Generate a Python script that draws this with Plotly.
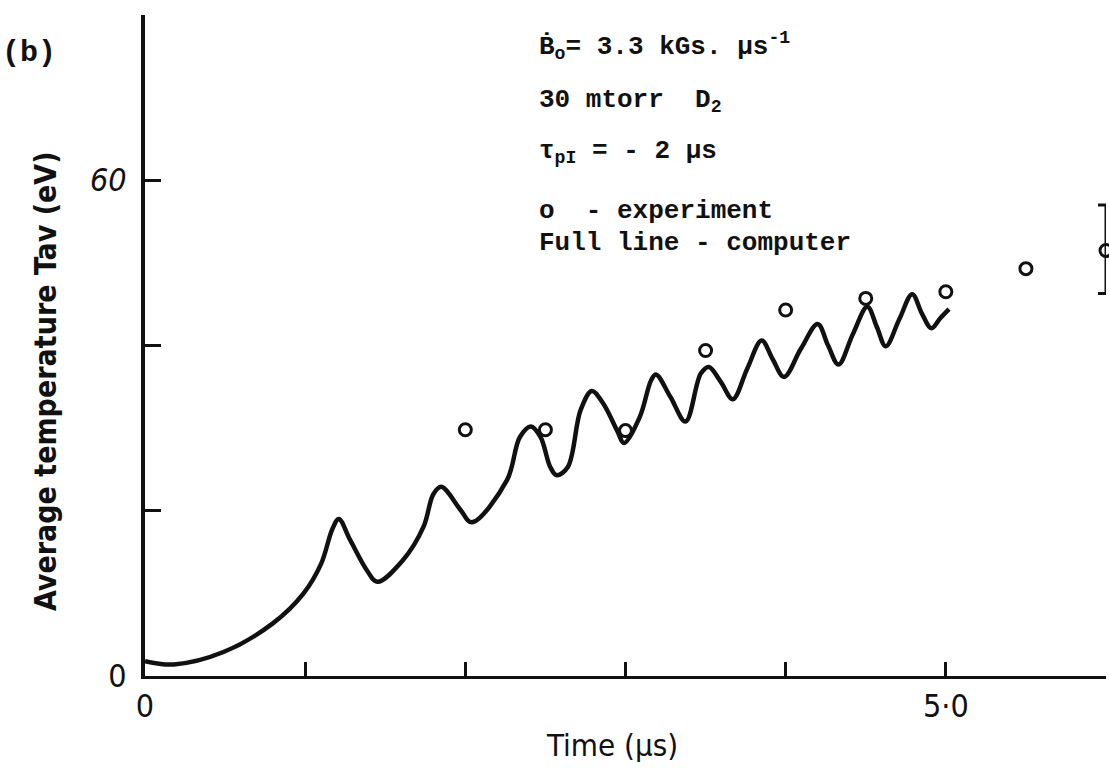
import plotly.graph_objects as go

# Computed average temperature (full line), time in microseconds, T in eV
sim_time = [0.00, 0.18, 0.49, 0.80, 0.99, 1.10, 1.17, 1.21, 1.28, 1.385, 1.45,
            1.61, 1.74, 1.80, 1.85, 1.97, 2.04, 2.26, 2.34, 2.41, 2.47, 2.53,
            2.57, 2.64, 2.72, 2.79, 2.86, 2.95, 2.99, 3.09, 3.16, 3.19, 3.28,
            3.375, 3.47, 3.52, 3.595, 3.67, 3.76, 3.85, 3.92, 3.99, 4.095,
            4.20, 4.265, 4.33, 4.42, 4.51, 4.57, 4.625, 4.71, 4.79, 4.85,
            4.91, 4.965, 5.02]
sim_temp = [1.8, 1.4, 2.9, 6.4, 10.0, 13.6, 17.8, 19.0, 16.5, 12.8, 11.4,
            14.0, 18.1, 22.0, 22.9, 20.1, 18.6, 23.7, 28.9, 30.2, 28.9, 25.3,
            24.3, 25.3, 32.2, 34.5, 33.0, 29.6, 28.2, 31.4, 35.8, 36.5, 33.8,
            30.8, 36.6, 37.4, 35.6, 33.5, 37.2, 40.6, 38.3, 36.2, 39.6,
            42.6, 40.0, 37.7, 41.4, 44.7, 42.2, 39.9, 43.2, 46.2, 43.9,
            42.1, 43.3, 44.4]

# Measured points (open circles)
exp_time = [2.0, 2.5, 3.0, 3.5, 4.0, 4.5, 5.0, 5.5]
exp_temp = [29.8, 29.8, 29.7, 39.4, 44.3, 45.7, 46.5, 49.3]

# Last measurement, drawn with its spread
bar_time = [6.0]
bar_temp = [51.5]
bar_up = [5.5]
bar_down = [5.2]

# Labelled ticks and the unlabelled marks between them
x_ticks = [0, 5]
x_tick_text = ["0", "5·0"]
x_minor_ticks = [1, 2, 3, 4, 6]
y_ticks = [0, 60]
y_tick_text = ["0", "<i>60</i>"]
y_minor_ticks = [20, 40, 80]

notes = [
    ("Ḃ<sub>o</sub>= 3.3 kGs. μs<sup>-1</sup>", 46),
    ("30 mtorr  D<sub>2</sub>", 101),
    ("τ<sub>pI</sub> = - 2 μs", 152),
    ("o  - experiment", 211),
    ("Full line - computer", 243),
]

W, H = 1109, 768
L, R, T, B = 145, 3, 15, 92
ink = "#111111"


def px(x):
    return (x - L) / (W - L - R)


def py(y):
    return (H - B - y) / (H - T - B)


fig = go.Figure()

fig.add_trace(go.Scatter(
    x=sim_time, y=sim_temp, mode="lines",
    line=dict(color=ink, width=4.5, shape="spline", smoothing=1.0),
    hoverinfo="skip", showlegend=False,
))

fig.add_trace(go.Scatter(
    x=exp_time, y=exp_temp, mode="markers",
    marker=dict(symbol="circle-open", size=12, color=ink, line=dict(width=3, color=ink)),
    cliponaxis=False, showlegend=False,
))

fig.add_trace(go.Scatter(
    x=bar_time, y=bar_temp, mode="markers",
    marker=dict(symbol="circle-open", size=12, color=ink, line=dict(width=3, color=ink)),
    error_y=dict(type="data", symmetric=False, array=bar_up, arrayminus=bar_down,
                 color=ink, thickness=3, width=8),
    cliponaxis=False, showlegend=False,
))

tick_font = dict(family="DejaVu Sans Condensed", size=32, color=ink)

fig.update_layout(
    width=W, height=H,
    margin=dict(l=L, r=R, t=T, b=B, pad=0),
    paper_bgcolor="white", plot_bgcolor="white",
    xaxis=dict(
        range=[0, 6], showgrid=False, zeroline=False,
        showline=True, linecolor=ink, linewidth=3,
        ticks="inside", ticklen=14, tickwidth=3, tickcolor=ink,
        tickvals=x_ticks, ticktext=x_tick_text, tickfont=tick_font,
        ticklabelstandoff=0,
        minor=dict(tickvals=x_minor_ticks, ticks="inside", ticklen=14,
                   tickwidth=3, tickcolor=ink, showgrid=False),
    ),
    yaxis=dict(
        range=[0, 80], showgrid=False, zeroline=False,
        showline=True, linecolor=ink, linewidth=4,
        ticks="inside", ticklen=16, tickwidth=3, tickcolor=ink,
        tickvals=y_ticks, ticktext=y_tick_text, tickfont=tick_font,
        ticklabelstandoff=8,
        minor=dict(tickvals=y_minor_ticks, ticks="inside", ticklen=16,
                   tickwidth=3, tickcolor=ink, showgrid=False),
    ),
)

annotations = []
for text, y_px in notes:
    annotations.append(dict(
        text=text, x=px(537), y=py(y_px), xref="paper", yref="paper",
        xanchor="left", yanchor="middle", showarrow=False,
        font=dict(family="Liberation Mono", size=26, color=ink, weight="bold"),
    ))

annotations.append(dict(
    text="(b)", x=px(29), y=py(53), xref="paper", yref="paper",
    xanchor="center", yanchor="middle", showarrow=False,
    font=dict(family="Liberation Mono", size=30, color=ink, weight="bold"),
))
annotations.append(dict(
    text="Average temperature Tav (eV)", x=px(45), y=py(381),
    xref="paper", yref="paper", xanchor="center", yanchor="middle",
    textangle=-90, showarrow=False,
    font=dict(family="DejaVu Sans Condensed", size=30, color=ink, weight="bold"),
))
annotations.append(dict(
    text="Time (μs)", x=px(612), y=py(745), xref="paper", yref="paper",
    xanchor="center", yanchor="middle", showarrow=False,
    font=dict(family="DejaVu Sans Condensed", size=31, color=ink),
))
fig.update_layout(annotations=annotations)

fig.write_html("out.html")
